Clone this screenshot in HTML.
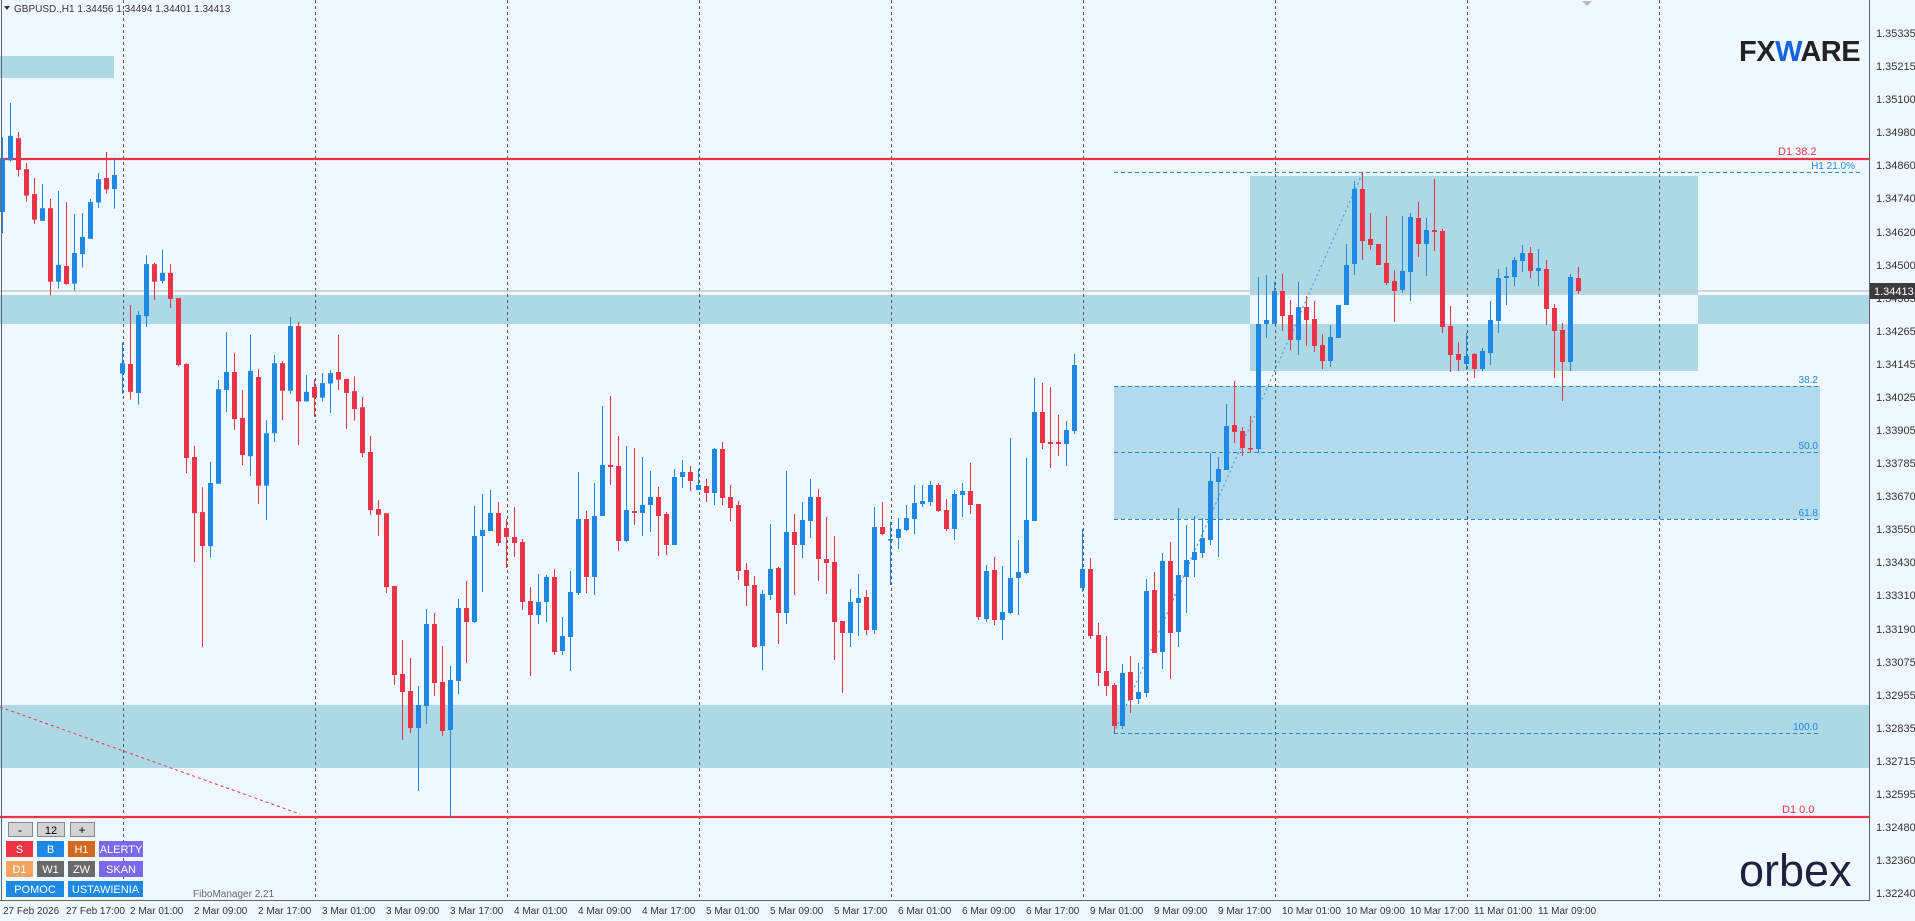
<!DOCTYPE html>
<html><head><meta charset="utf-8"><style>
html,body{margin:0;padding:0;background:#f0f8ff;width:1915px;height:921px;overflow:hidden}
svg{display:block;font-family:"Liberation Sans",sans-serif}
.pl{font-size:11px;fill:#333}
.tl{font-size:10px;fill:#333}
.btn{font-size:11px;fill:#fff;text-anchor:middle}
</style></head><body>
<svg id="s" width="1915" height="921" viewBox="0 0 1915 921" xmlns="http://www.w3.org/2000/svg">
<rect width="1915" height="921" fill="#f0f8ff"/>
<rect x="0" y="56" width="114" height="22" fill="#add8e6"/>
<rect x="0" y="295" width="1250" height="29" fill="#add8e6"/>
<rect x="1698" y="295" width="171" height="29" fill="#add8e6"/>
<rect x="1250" y="176" width="448" height="119" fill="#add8e6"/>
<rect x="1250" y="324" width="448" height="47" fill="#add8e6"/>
<rect x="1114" y="386" width="706" height="133" fill="#b3d9ed"/>
<rect x="0" y="705" width="1869" height="63" fill="#add8e6"/>
<g stroke="#4a5560" stroke-width="1" stroke-dasharray="3,3">
<line x1="123.5" y1="0" x2="123.5" y2="900"/><line x1="315.5" y1="0" x2="315.5" y2="900"/>
<line x1="507.5" y1="0" x2="507.5" y2="900"/><line x1="699.5" y1="0" x2="699.5" y2="900"/>
<line x1="891.5" y1="0" x2="891.5" y2="900"/><line x1="1083.5" y1="0" x2="1083.5" y2="900"/>
<line x1="1275.5" y1="0" x2="1275.5" y2="900"/><line x1="1467.5" y1="0" x2="1467.5" y2="900"/>
<line x1="1659.5" y1="0" x2="1659.5" y2="900"/>
</g>
<g stroke="#1e88e5" stroke-width="1" stroke-dasharray="4,3">
<line x1="1114" y1="172.5" x2="1862" y2="172.5"/>
<line x1="1114" y1="386.5" x2="1820" y2="386.5"/>
<line x1="1114" y1="452.5" x2="1820" y2="452.5"/>
<line x1="1114" y1="519.5" x2="1820" y2="519.5"/>
<line x1="1114" y1="733.5" x2="1820" y2="733.5"/>
</g>
<line x1="1114" y1="733" x2="1363" y2="172" stroke="#4aa3e8" stroke-width="1.3" stroke-dasharray="2,3"/>
<g font-size="10" fill="#1e88e5" text-anchor="end">
<text x="1855" y="169">H1 21.0%</text>
<text x="1818" y="383">38.2</text>
<text x="1818" y="449">50.0</text>
<text x="1818" y="516">61.8</text>
<text x="1818" y="730">100.0</text>
</g>
<line x1="0" y1="291" x2="1869" y2="291" stroke="#c8c8c8" stroke-width="1.5"/>
<line x1="0" y1="159" x2="1869" y2="159" stroke="#ee3344" stroke-width="2.2"/>
<line x1="0" y1="817" x2="1869" y2="817" stroke="#ee3344" stroke-width="2.2"/>
<line x1="0" y1="707" x2="300" y2="814" stroke="#ee3344" stroke-width="1" stroke-dasharray="3,3"/>
<text x="1778" y="155" font-size="11" fill="#ee3344">D1 38.2</text>
<text x="1782" y="813" font-size="11" fill="#ee3344">D1 0.0</text>
<g id="candles"></g>
<line x1="1.5" y1="0" x2="1.5" y2="900" stroke="#5a6570" stroke-width="1"/>
<line x1="1869.5" y1="0" x2="1869.5" y2="900" stroke="#5a6570" stroke-width="1"/>
<line x1="0" y1="900.5" x2="1870" y2="900.5" stroke="#5a6570" stroke-width="1"/>
<polygon points="1582,1 1592,1 1587,6" fill="#bbb"/>
<polygon points="4,6 10,6 7,10" fill="#333"/>
<text x="14" y="12" font-size="10" fill="#333">GBPUSD.,H1  1.34456 1.34494 1.34401 1.34413</text>
<text x="1739" y="61" font-size="29" font-weight="bold" fill="#222" letter-spacing="-0.5">FX<tspan fill="#1565e0">W</tspan>ARE</text>
<text x="1739" y="886" font-size="45" fill="#1a2340" letter-spacing="0">orbex</text>
<g class="pl">
<text x="1876" y="37">1.35335</text><text x="1876" y="70">1.35215</text><text x="1876" y="103">1.35100</text>
<text x="1876" y="136">1.34980</text><text x="1876" y="169">1.34860</text><text x="1876" y="202">1.34740</text>
<text x="1876" y="236">1.34620</text><text x="1876" y="269">1.34500</text>
<text x="1876" y="302">1.34385</text><text x="1876" y="335">1.34265</text>
<text x="1876" y="368">1.34145</text><text x="1876" y="401">1.34025</text><text x="1876" y="434">1.33905</text>
<text x="1876" y="467">1.33785</text><text x="1876" y="500">1.33670</text><text x="1876" y="533">1.33550</text>
<text x="1876" y="566">1.33430</text><text x="1876" y="599">1.33310</text><text x="1876" y="633">1.33190</text>
<text x="1876" y="666">1.33075</text><text x="1876" y="699">1.32955</text><text x="1876" y="732">1.32835</text>
<text x="1876" y="765">1.32715</text><text x="1876" y="798">1.32595</text><text x="1876" y="831">1.32480</text>
<text x="1876" y="864">1.32360</text><text x="1876" y="897">1.32240</text>
</g>
<rect x="1870" y="283" width="45" height="16" fill="#3c3c3c"/>
<text x="1874" y="295" font-size="11" fill="#fff">1.34413</text>
<g class="tl">
<text x="3" y="914">27 Feb 2026</text><text x="66" y="914">27 Feb 17:00</text>
<text x="130" y="914">2 Mar 01:00</text><text x="194" y="914">2 Mar 09:00</text><text x="258" y="914">2 Mar 17:00</text>
<text x="322" y="914">3 Mar 01:00</text><text x="386" y="914">3 Mar 09:00</text><text x="450" y="914">3 Mar 17:00</text>
<text x="514" y="914">4 Mar 01:00</text><text x="578" y="914">4 Mar 09:00</text><text x="642" y="914">4 Mar 17:00</text>
<text x="706" y="914">5 Mar 01:00</text><text x="770" y="914">5 Mar 09:00</text><text x="834" y="914">5 Mar 17:00</text>
<text x="898" y="914">6 Mar 01:00</text><text x="962" y="914">6 Mar 09:00</text><text x="1026" y="914">6 Mar 17:00</text>
<text x="1090" y="914">9 Mar 01:00</text><text x="1154" y="914">9 Mar 09:00</text><text x="1218" y="914">9 Mar 17:00</text>
<text x="1282" y="914">10 Mar 01:00</text><text x="1346" y="914">10 Mar 09:00</text><text x="1410" y="914">10 Mar 17:00</text>
<text x="1474" y="914">11 Mar 01:00</text><text x="1538" y="914">11 Mar 09:00</text>
</g>
<g stroke="#888" stroke-width="1">
<rect x="8.5" y="822.5" width="24" height="14" fill="#d3d3d3"/>
<rect x="37.5" y="822.5" width="27" height="14" fill="#d3d3d3"/>
<rect x="70.5" y="822.5" width="24" height="14" fill="#d3d3d3"/>
</g>
<text x="20" y="834" font-size="12" text-anchor="middle" fill="#000">-</text>
<text x="51" y="834" font-size="11" text-anchor="middle" fill="#000">12</text>
<text x="82" y="834" font-size="12" text-anchor="middle" fill="#000">+</text>
<rect x="6" y="841" width="27" height="16" fill="#ee3344"/><text class="btn" x="19.5" y="853">S</text>
<rect x="37" y="841" width="27" height="16" fill="#1e88e5"/><text class="btn" x="50.5" y="853">B</text>
<rect x="68" y="841" width="27" height="16" fill="#d2691e"/><text class="btn" x="81.5" y="853">H1</text>
<rect x="99" y="841" width="44" height="16" fill="#7b68ee"/><text class="btn" x="121" y="853">ALERTY</text>
<rect x="6" y="861" width="27" height="16" fill="#f4a460"/><text class="btn" x="19.5" y="873">D1</text>
<rect x="37" y="861" width="27" height="16" fill="#696969"/><text class="btn" x="50.5" y="873">W1</text>
<rect x="68" y="861" width="27" height="16" fill="#696969"/><text class="btn" x="81.5" y="873">ZW</text>
<rect x="99" y="861" width="44" height="16" fill="#7b68ee"/><text class="btn" x="121" y="873">SKAN</text>
<rect x="6" y="881" width="58" height="16" fill="#1e88e5"/><text class="btn" x="35" y="893">POMOC</text>
<rect x="68" y="881" width="75" height="16" fill="#1e88e5"/><text class="btn" x="105.5" y="893" font-size="10.5">USTAWIENIA</text>
<text x="193" y="897" font-size="10" fill="#666">FiboManager 2.21</text>
</svg>
<script>
var Z3=[[205,345,150,400,'b'],[146,210,60,213,'b'],[152,235,136,252,'r'],[233,302,217,318,'r'],[298,365,256,376,'r'],[335,368,272,368,'b'],[335,527,311,563,'r'],[483,527,290,545,'b'],[486,533,319,535,'r'],[452,532,350,550,'b'],[410,455,348,490,'b'],[319,415,311,415,'b'],[259,320,243,334,'b'],[256,286,188,297,'r'],[248,285,206,336,'b'],[740,767,686,820,'b'],[742,815,588,835,'r'],[614,818,604,848,'b'],[481,617,458,645,'b'],[481,527,478,575,'r'],[504,525,444,532,'b'],[504,572,481,596,'r'],[570,745,570,748,'r'],[742,988,740,1027,'r'],[985,1132,956,1260,'r'],[1129,1218,1064,1482,'r'],[1053,1218,998,1248,'b'],[808,1055,784,1055,'b'],[763,810,659,868,'b'],[763,886,713,914,'r'],[883,980,810,1006,'r'],[760,983,666,1035,'b'],[776,1060,755,1108,'r'],[923,1060,889,1150,'b'],[740,923,719,946,'b'],[740,812,735,889,'r'],[643,812,619,820,'b'],[643,840,632,954,'r'],[815,840,771,840,'b'],[802,830,782,880,'r'],[792,830,766,840,'b'],[766,793,758,870,'b'],[763,783,666,810,'r'],[781,818,781,912,'r'],[813,860,774,890,'r'],[855,975,828,985,'r'],[972,1124,930,1136,'r'],[1121,1136,1098,1192,'r'],[1132,1325,1132,1340,'r']];
var A=[];
Z3.forEach(function(c){A.push([80+c[0]/2.613,80+c[1]/2.613,80+c[2]/2.613,80+c[3]/2.613,c[4]]);});
A=A.concat([[586,675,586,685,'r'],[674,692,640,740,'r'],[691,728,658,733,'r'],[705,728,686,791,'b'],[624,706,609,724,'b'],[624,683,613,696,'r'],[682,731,646,736,'r'],[680,730,666,817,'b'],[608,681,599,694,'b'],[608,622,581,663,'r'],[536,622,506,623,'b'],[530,536,494,592,'b'],[513,531,490,531,'b'],[513,543,502,546,'r'],[528,537,519,568,'r'],[537,543,507,557,'r'],[542,602,539,610,'r'],[601,615,587,676,'r'],[602,615,574,624,'b'],[577,602,575,622,'b'],[577,652,569,655,'r'],[636,651,617,655,'b'],[592,637,571,671,'b'],[519,593,472,595,'b'],[519,577,511,593,'r'],[516,577,483,595,'b'],[465,516,406,516,'b'],[465,467,396,485,'r'],[466,541,436,551,'r'],[510,541,446,542,'b'],[511,513,448,525,'r'],[505,513,457,536,'b'],[497,505,471,532,'b'],[497,516,487,556,'r'],[514,545,512,555,'r'],[477,545,469,545,'b'],[472,477,460,488,'b'],[472,481,466,491,'r'],[485,490,469,490,'b'],[486,493,479,502,'r'],[449,493,448,505,'b'],[449,498,442,505,'r'],[497,508,485,521,'r'],[505,571,501,580,'r'],[570,586,563,606,'r'],[585,647,576,648,'r'],[594,646,590,670,'b'],[569,595,524,600,'b'],[568,613,567,644,'r'],[532,613,471,624,'b'],[532,545,514,595,'r'],[520,545,502,558,'b'],[497,521,479,538,'b'],[497,559,489,581,'r'],[559,563,517,594,'r'],[562,622,536,660,'r'],[621,633,621,693,'r'],[602,633,589,647,'b'],[598,603,574,636,'b'],[597,630,590,635,'r'],[527,630,507,634,'b'],[527,534,502,535,'r'],[539,540,522,585,'b'],[529,538,518,549,'b'],[518,530,505,531,'b'],[503,519,485,534,'b'],[501,504,485,507,'b'],[485,502,481,506,'b'],[485,511,483,512,'r'],[510,529,499,531,'r'],[494,529,490,540,'b'],[491,495,483,517,'b'],[491,505,463,514,'r'],[504,617,504,620,'r'],[571,619,565,622,'b'],[570,620,557,625,'r'],[612,620,566,640,'b'],[578,613,438,614,'b'],[572,578,540,615,'b'],[520,573,458,574,'b'],[412,521,378,521,'b'],[412,443,383,449,'r'],[442,444,387,468,'r'],[442,444,415,456,'r'],[430,444,421,466,'b'],[365,431,354,434,'b'],[569,588,529,592,'b'],[569,636,558,639,'r'],[635,673,623,686,'r'],[671,686,636,696,'r'],[685,726,683,733,'r'],[673,726,664,729,'b'],[672,700,656,713,'r'],[692,699,663,704,'b'],[591,693,579,697,'b'],[590,653,572,653,'r'],[561,652,553,669,'b'],[561,633,542,679,'r'],[575,632,508,647,'b'],[560,577,525,613,'b'],[552,560,516,577,'b'],[538,553,518,558,'b'],[481,540,453,545,'b'],[469,482,457,557,'b'],[426,470,404,470,'b'],[425,432,381,443,'r'],[431,448,427,456,'r'],[448,449,416,453,'r'],[324,449,277,453,'b'],[320,324,275,338,'b'],[291,324,282,324,'b'],[291,316,274,331,'r'],[315,340,300,350,'r'],[307,340,282,355,'b'],[307,320,296,346,'r'],[319,346,301,352,'r'],[345,361,334,369,'r'],[337,361,325,367,'b'],[305,338,305,338,'b'],[265,305,244,305,'b'],[189,264,181,275,'b'],[189,241,172,260,'r'],[239,245,213,250,'r'],[244,265,244,265,'r'],[263,283,216,285,'r'],[281,291,270,322,'r'],[271,290,216,293,'b'],[217,272,213,301,'b'],[218,244,202,257,'r'],[230,244,218,276,'b'],[230,232,179,251,'r'],[231,327,229,333,'r'],[326,355,306,372,'r'],[354,360,342,371,'r'],[356,364,333,370,'b'],[354,369,353,378,'r'],[351,369,348,371,'b'],[320,353,301,365,'b'],[278,321,269,333,'b'],[276,278,267,305,'b'],[260,277,257,286,'b'],[253,261,245,272,'b'],[253,271,247,278,'r'],[268,271,249,286,'b'],[269,309,260,325,'r'],[308,331,304,378,'r'],[330,362,323,401,'r'],[277,362,274,371,'b'],[278,291,267,294,'r']]);
var g=document.getElementById('candles'),h='';
A.forEach(function(c,k){var x=2.5+8*k,col=c[4]=='b'?'#1e88e5':'#ef3346';
var t=Math.min(c[0],c[1]),b=Math.max(c[0],c[1]);if(b-t<1.5)b=t+1.5;
h+='<line x1="'+x+'" y1="'+c[2]+'" x2="'+x+'" y2="'+c[3]+'" stroke="'+col+'" stroke-width="1"/>';
h+='<rect x="'+(x-2.5)+'" y="'+t+'" width="5" height="'+(b-t)+'" fill="'+col+'"/>';});
g.innerHTML=h;
</script>
</body></html>
